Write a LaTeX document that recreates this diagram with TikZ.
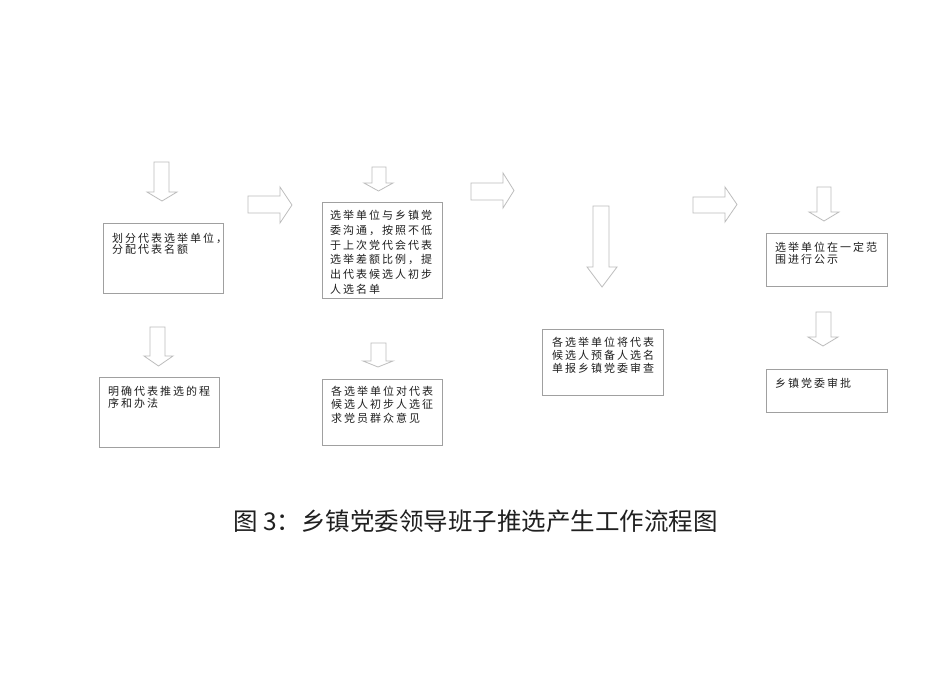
\documentclass[tikz,border=0pt]{standalone}
\usepackage{fontspec}
\newfontfamily\cjk[LetterSpace=18]{Noto Sans CJK SC}
\newfontfamily\cjkcap{Noto Sans CJK SC}
\definecolor{boxline}{HTML}{A0A0A0}
\definecolor{arrline}{HTML}{BDBDBD}
\definecolor{txt}{HTML}{202020}
\newcommand\mydarrow[7]{%
  \draw[blockarr] (#1,#3) -- (#2,#3) -- (#2,#4) -- (#6,#4) -- ({(#5+#6)/2},#7) -- (#5,#4) -- (#1,#4) -- cycle;}
\newcommand\myrarrow[7]{%
  \draw[blockarr] (#1,#4) -- (#2,#4) -- (#2,#6) -- (#3,{(#6+#7)/2}) -- (#2,#7) -- (#2,#5) -- (#1,#5) -- cycle;}
\begin{document}
\begin{tikzpicture}[x=1pt,y=-1pt,
  box/.style={draw=boxline,line width=0.8pt,anchor=north west,inner sep=0pt},
  blockarr/.style={draw=arrline,line width=0.8pt,fill=white,line join=miter},
  btext/.style={anchor=north west,inner sep=0pt,align=left,text=txt}]
\useasboundingbox[fill=white] (0,0) rectangle (950,672);
% boxes
\node[box,minimum width=120pt,minimum height=70pt] (b1) at (103,223) {};
\node[box,minimum width=120pt,minimum height=96pt] (b2) at (322,202) {};
\node[box,minimum width=120pt,minimum height=70pt] (b3) at (99,377) {};
\node[box,minimum width=120pt,minimum height=66pt] (b4) at (322,379) {};
\node[box,minimum width=121pt,minimum height=66pt] (b5) at (542,329) {};
\node[box,minimum width=121pt,minimum height=53pt] (b6) at (766,233) {};
\node[box,minimum width=121pt,minimum height=43pt] (b7) at (766,369) {};
% texts
\node[btext,font=\cjk\fontsize{11}{11}\selectfont] (t1) at (112,232.5) {划分代表选举单位，\\分配代表名额};
\node[btext,font=\cjk\fontsize{11}{14.8}\selectfont] (t2) at (330,210) {选举单位与乡镇党\\委沟通，按照不低\\于上次党代会代表\\选举差额比例，提\\出代表候选人初步\\人选名单};
\node[btext,font=\cjk\fontsize{11}{12}\selectfont] (t3) at (108,386.5) {明确代表推选的程\\序和办法};
\node[btext,font=\cjk\fontsize{11}{13.5}\selectfont] (t4) at (331,385.5) {各选举单位对代表\\候选人初步人选征\\求党员群众意见};
\node[btext,font=\cjk\fontsize{11}{13}\selectfont] (t5) at (552,336.5) {各选举单位将代表\\候选人预备人选名\\单报乡镇党委审查};
\node[btext,font=\cjk\fontsize{11}{12}\selectfont] (t6) at (775,241.5) {选举单位在一定范\\围进行公示};
\node[btext,font=\cjk\fontsize{11}{12}\selectfont] (t7) at (775,377.5) {乡镇党委审批};
% block arrows
\mydarrow{154}{169}{162}{192}{147}{177}{201}
\mydarrow{372}{386}{167}{183}{364}{393}{191}
\mydarrow{150}{165}{327}{356}{144}{173}{366}
\mydarrow{371}{386}{343}{361}{363}{393}{367}
\mydarrow{593}{609}{206}{267}{587}{617}{287}
\mydarrow{817}{831}{187}{212}{809}{839}{221}
\mydarrow{816}{831}{312}{337}{808}{838}{346}
\myrarrow{248}{280}{292}{196}{213}{187}{223}
\myrarrow{471}{503}{514}{183}{200}{173}{208}
\myrarrow{693}{725}{737}{197}{213}{187}{222}
% caption
\node[text=txt,font=\cjkcap\fontsize{24.5}{26}\selectfont,inner sep=0pt] (cap) at (475.5,521.5) {图 3：乡镇党委领导班子推选产生工作流程图};
\end{tikzpicture}
\end{document}
